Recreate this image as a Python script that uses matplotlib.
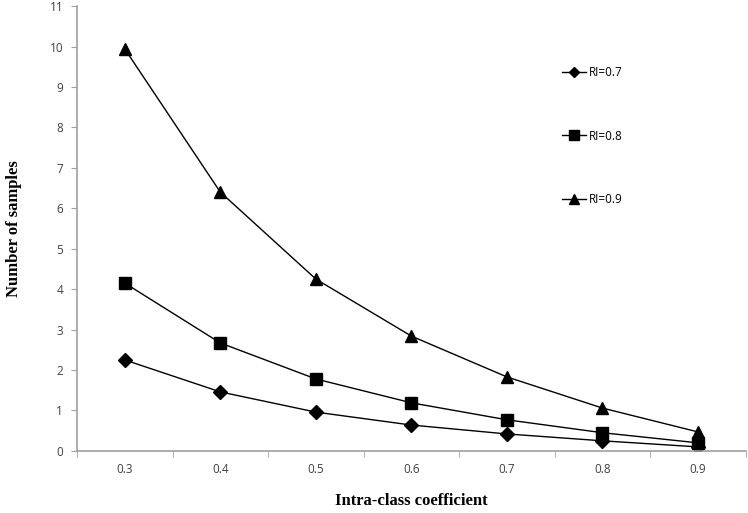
import numpy as np
import matplotlib.pyplot as plt

icc = ['0.3', '0.4', '0.5', '0.6', '0.7', '0.8', '0.9']
ri_07 = [2.25, 1.46, 0.96, 0.64, 0.42, 0.25, 0.10]
ri_08 = [4.15, 2.67, 1.78, 1.19, 0.77, 0.45, 0.20]
ri_09 = [9.94, 6.40, 4.25, 2.84, 1.83, 1.06, 0.47]

tick_font = 'Open Sans'
label_font = 'Liberation Serif'

fig = plt.figure(figsize=(7.48, 5.13), dpi=100)
ax = fig.add_axes([0.103, 0.121, 0.894, 0.867])

x = np.arange(len(icc))
ax.plot(x, ri_07, color='black', lw=1, marker='D', ms=7, label='RI=0.7')
ax.plot(x, ri_08, color='black', lw=1, marker='s', ms=9, label='RI=0.8')
ax.plot(x, ri_09, color='black', lw=1, marker='^', ms=9, label='RI=0.9')

ax.set_xlim(-0.5, len(icc) - 0.5)
ax.set_ylim(0, 11)
ax.set_yticks(range(0, 12))
ax.set_xticks(x)
ax.set_xticklabels(icc)
ax.set_xticks(np.arange(-0.5, len(icc)), minor=True)
ax.tick_params(axis='x', which='major', length=0, pad=9)
ax.tick_params(axis='x', which='minor', length=4, color='#a0a0a0', direction='out')
ax.tick_params(axis='y', length=4, color='#a0a0a0', pad=6)
for lab in ax.get_xticklabels() + ax.get_yticklabels():
    lab.set_fontfamily(tick_font)
    lab.set_fontsize(8.5)
    lab.set_color('#404040')

for s in ['top', 'right']:
    ax.spines[s].set_visible(False)
for s in ['left', 'bottom']:
    ax.spines[s].set_color('#a0a0a0')
    ax.spines[s].set_linewidth(1.2)

ax.set_xlabel('Intra-class coefficient', fontfamily=label_font, fontweight='bold',
              fontsize=12, labelpad=12)
ax.set_ylabel('Number of samples', fontfamily=label_font, fontweight='bold',
              fontsize=12, labelpad=20)

leg = ax.legend(loc='center left', bbox_to_anchor=(562 / 748, 1 - 136 / 513),
                bbox_transform=fig.transFigure, frameon=False, borderpad=0,
                borderaxespad=0, prop={'family': tick_font, 'size': 8.5},
                handlelength=2.0, handletextpad=0.25, labelspacing=4.3,
                markerscale=0.75)

fig.savefig('out.png', dpi=100)
